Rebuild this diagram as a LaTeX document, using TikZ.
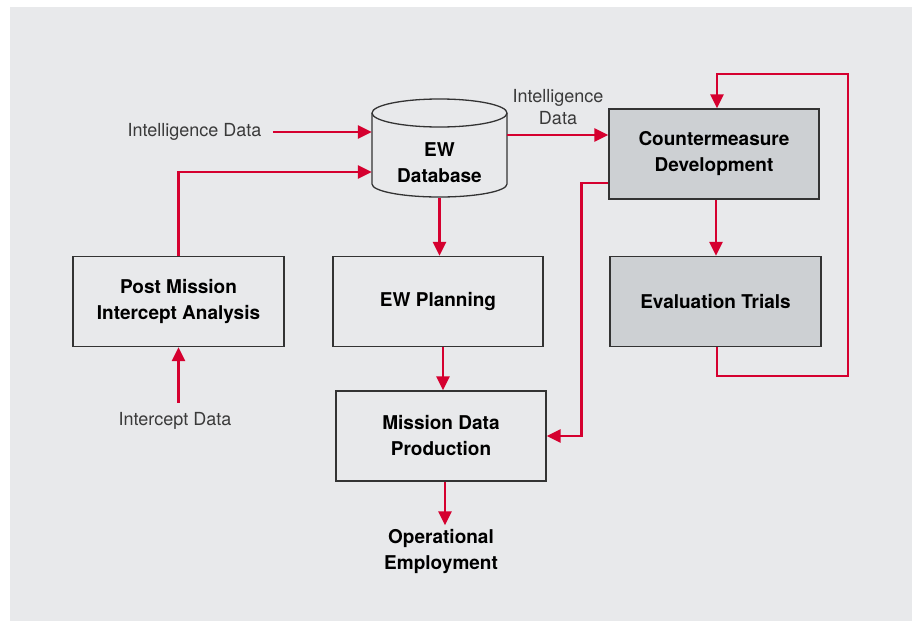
\documentclass[tikz,border=0pt]{standalone}
\usepackage{fontspec}
\setmainfont{TeX Gyre Heros}
\usetikzlibrary{arrows.meta}

\definecolor{panel}{HTML}{E8E9EB}
\definecolor{boxgray}{HTML}{CDD0D3}
\definecolor{flowred}{HTML}{D5002F}
\definecolor{labelgray}{HTML}{3A3A3A}

\begin{document}
\begin{tikzpicture}[x=1pt,y=1pt,
  stagebox/.style={rectangle,draw=black!80,line width=1.3pt,fill=panel,minimum width=210,minimum height=90,align=center,text=black,font=\fontsize{19}{27}\selectfont\bfseries},
  darkbox/.style={stagebox,fill=boxgray},
  boldtext/.style={align=center,text=black,font=\fontsize{19}{26}\selectfont\bfseries},
  plaintext/.style={align=center,text=labelgray,font=\fontsize{18}{22}\selectfont},
  flow/.style={draw=flowred,line width=2.5pt,-{Triangle[length=14pt,width=13pt]}}]

 \useasboundingbox (0,0) rectangle (915,-621);
 \fill[panel] (10,-7) rectangle (912,-621);

 \fill[panel] (372,-113) -- (372,-184) arc[start angle=180,end angle=360,x radius=67.5,y radius=13] -- (507,-113) -- cycle;
 \draw[black!80,line width=1.3pt] (372,-113) -- (372,-184) arc[start angle=180,end angle=360,x radius=67.5,y radius=13] -- (507,-113);
 \draw[black!80,line width=1.3pt,fill=panel] (439.5,-113) ellipse[x radius=67.5,y radius=14];
 \node[boldtext,minimum width=135,minimum height=70] (db) at (439.5,-163) {EW\\Database};

 \node[stagebox,minimum width=211] (pma) at (178.5,-301.5) {Post Mission\\[-1pt]Intercept Analysis};
 \node[stagebox] (ep) at (438,-301.5) {EW Planning};
 \node[stagebox] (mdp) at (441,-436) {Mission Data\\[-1pt]Production};
 \node[darkbox] (cm) at (714,-154) {Countermeasure\\[-1pt]Development};
 \node[darkbox,minimum width=211] (et) at (715.5,-301.5) {Evaluation Trials};

 \node[plaintext] (intel) at (194.5,-132) {Intelligence Data};
 \node[plaintext] (intel2) at (558,-107) {Intelligence\\Data};
 \node[plaintext] (icd) at (175,-421) {Intercept Data};
 \node[boldtext] (op) at (441,-551) {Operational\\Employment};
 \coordinate (loop) at (848,-74);

 \draw[flow] ([xshift=8pt]intel.east) -- (intel.east -| db.west);
 \draw[flow] (pma.north) |- ([yshift=-9pt]db.west);
 \draw[flow] ([yshift=19pt]cm.west -| db.east) -- ([yshift=19pt]cm.west);
 \draw[flow] (db.south) -- (db.south |- ep.north);
 \draw[flow] ([xshift=5pt]ep.south) -- ([xshift=5pt]ep.south |- mdp.north);
 \draw[flow] ([xshift=4pt]mdp.south) -- ([xshift=4pt]mdp.south |- op.north);
 \draw[flow] ([yshift=6pt]icd.north -| pma.south) -- (pma.south);
 \draw[flow] ([xshift=2pt]cm.south) -- ([xshift=2pt]cm.south |- et.north);
 \draw[flow] ([xshift=1.5pt]et.south) -- ++(0,-29) -| (loop) -| ([xshift=3pt]cm.north);
 \draw[flow] ([yshift=-29pt]cm.west) -- ++(-27,0) |- (mdp.east);
\end{tikzpicture}
\end{document}
